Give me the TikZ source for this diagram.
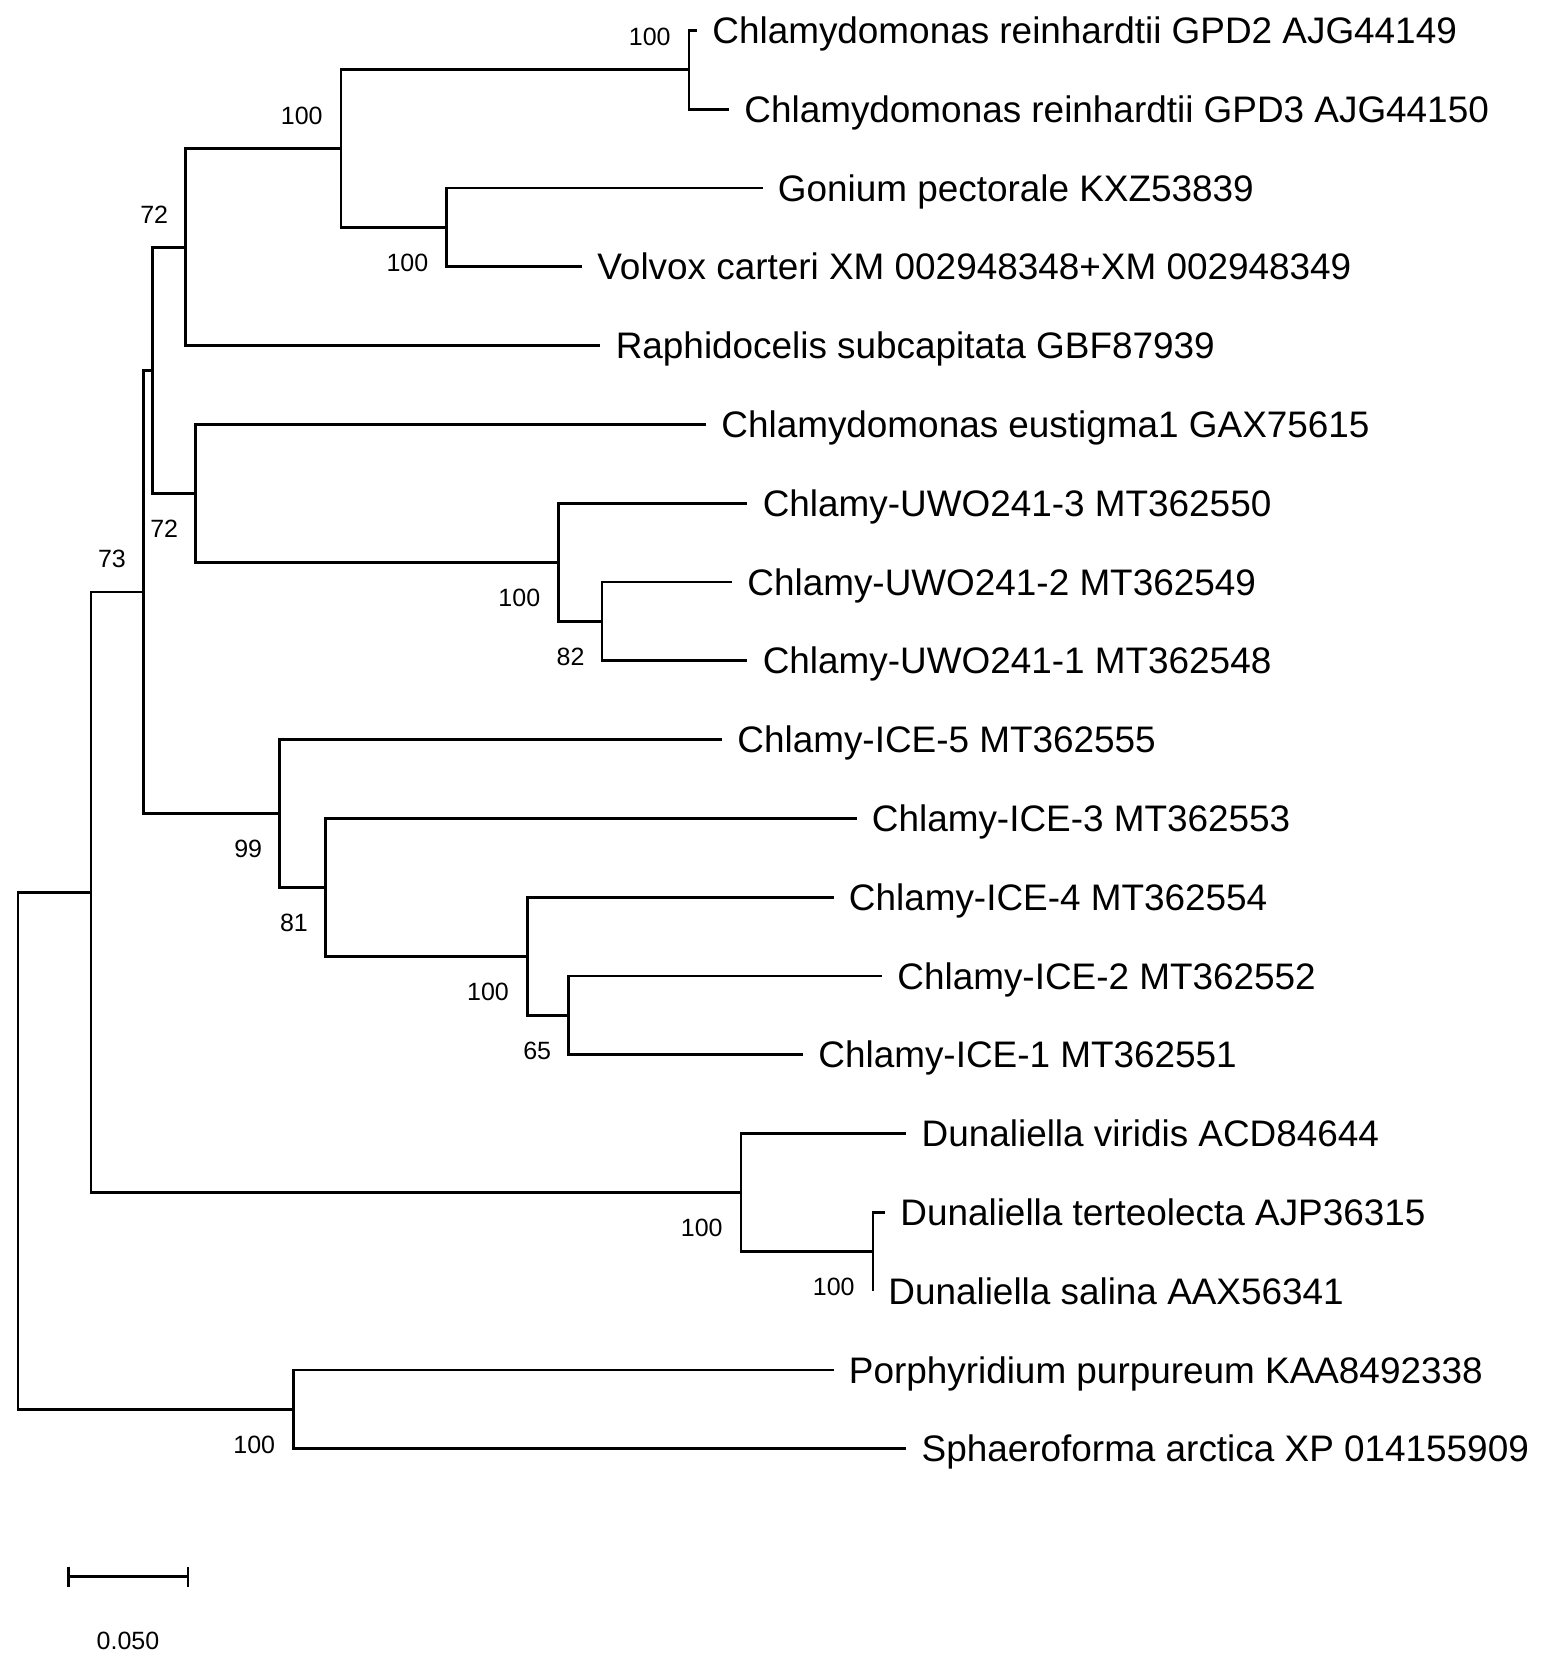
\documentclass[tikz,border=0pt]{standalone}
\usepackage{fontspec}
\setmainfont{Liberation Sans}
\usetikzlibrary{calc}
\begin{document}
\begin{tikzpicture}[x=0.5pt,y=-0.5pt,
  br/.style={line width=1.4pt},
  taxon/.style={anchor=base west, inner sep=0pt, font=\fontsize{18.45}{20}\selectfont},
  boot/.style={anchor=east, inner sep=0pt, font=\fontsize{12.5}{14}\selectfont}]
\fill[white] (0,0) rectangle (1551,1670);
\useasboundingbox (0,0) rectangle (1551,1670);
% leaf ends
\coordinate (l1) at (697,30.4);
\coordinate (l2) at (729,109.2);
\coordinate (l3) at (762.5,188);
\coordinate (l4) at (582,266.8);
\coordinate (l5) at (600.4,345.6);
\coordinate (l6) at (706,424.4);
\coordinate (l7) at (747.4,503.2);
\coordinate (l8) at (732,582);
\coordinate (l9) at (747.4,660.8);
\coordinate (l10) at (722,739.6);
\coordinate (l11) at (856.5,818.4);
\coordinate (l12) at (833.5,897.2);
\coordinate (l13) at (882,976);
\coordinate (l14) at (803,1054.8);
\coordinate (l15) at (906.3,1133.6);
\coordinate (l16) at (885,1212.4);
\coordinate (l17) at (873,1291.2);
\coordinate (l18) at (833.5,1370);
\coordinate (l19) at (906.3,1448.8);
% internal nodes
\coordinate (A) at (689,69.8);
\coordinate (C) at (446.7,227.4);
\coordinate (B) at (341,148.6);
\coordinate (D) at (185.5,247.1);
\coordinate (I) at (601.9,621.4);
\coordinate (G) at (558.6,562.3);
\coordinate (F) at (195.5,493.35);
\coordinate (E) at (152.7,370.2);
\coordinate (M) at (568.5,1015.4);
\coordinate (L) at (527.3,956.3);
\coordinate (K) at (325.3,887.35);
\coordinate (J) at (279.5,813.5);
\coordinate (H) at (143.3,591.9);
\coordinate (Q) at (873,1251.8);
\coordinate (O) at (741,1192.7);
\coordinate (N) at (91,892.3);
\coordinate (P) at (293.5,1409.4);
\coordinate (R) at (17.9,1150.9);
% branches
\draw[br] (A) |- (l1); \draw[br] (A) |- (l2);
\draw[br] (B) |- (A);  \draw[br] (B) |- (C);
\draw[br] (C) |- (l3); \draw[br] (C) |- (l4);
\draw[br] (D) |- (B);  \draw[br] (D) |- (l5);
\draw[br] (E) |- (D);  \draw[br] (E) |- (F);
\draw[br] (F) |- (l6); \draw[br] (F) |- (G);
\draw[br] (G) |- (l7); \draw[br] (G) |- (I);
\draw[br] (I) |- (l8); \draw[br] (I) |- (l9);
\draw[br] (H) |- (E);  \draw[br] (H) |- (J);
\draw[br] (J) |- (l10); \draw[br] (J) |- (K);
\draw[br] (K) |- (l11); \draw[br] (K) |- (L);
\draw[br] (L) |- (l12); \draw[br] (L) |- (M);
\draw[br] (M) |- (l13); \draw[br] (M) |- (l14);
\draw[br] (N) |- (H);  \draw[br] (N) |- (O);
\draw[br] (O) |- (l15); \draw[br] (O) |- (Q);
\draw[br] (Q) |- (l16); \draw[br] (Q) |- (l17);
\draw[br] (R) |- (N);  \draw[br] (R) |- (P);
\draw[br] (P) |- (l18); \draw[br] (P) |- (l19);
% taxon labels
\node[taxon] (t1) at ($(l1)+(15,13)$) {Chlamydomonas reinhardtii GPD2 AJG44149};
\node[taxon] (t2) at ($(l2)+(15,13)$) {Chlamydomonas reinhardtii GPD3 AJG44150};
\node[taxon] (t3) at ($(l3)+(15,13)$) {Gonium pectorale KXZ53839};
\node[taxon] (t4) at ($(l4)+(15,13)$) {Volvox carteri XM 002948348+XM 002948349};
\node[taxon] (t5) at ($(l5)+(15,13)$) {Raphidocelis subcapitata GBF87939};
\node[taxon] (t6) at ($(l6)+(15,13)$) {Chlamydomonas eustigma1 GAX75615};
\node[taxon] (t7) at ($(l7)+(15,13)$) {Chlamy-UWO241-3 MT362550};
\node[taxon] (t8) at ($(l8)+(15,13)$) {Chlamy-UWO241-2 MT362549};
\node[taxon] (t9) at ($(l9)+(15,13)$) {Chlamy-UWO241-1 MT362548};
\node[taxon] (t10) at ($(l10)+(15,13)$) {Chlamy-ICE-5 MT362555};
\node[taxon] (t11) at ($(l11)+(15,13)$) {Chlamy-ICE-3 MT362553};
\node[taxon] (t12) at ($(l12)+(15,13)$) {Chlamy-ICE-4 MT362554};
\node[taxon] (t13) at ($(l13)+(15,13)$) {Chlamy-ICE-2 MT362552};
\node[taxon] (t14) at ($(l14)+(15,13)$) {Chlamy-ICE-1 MT362551};
\node[taxon] (t15) at ($(l15)+(15,13)$) {Dunaliella viridis ACD84644};
\node[taxon] (t16) at ($(l16)+(15,13)$) {Dunaliella terteolecta AJP36315};
\node[taxon] (t17) at ($(l17)+(15,13)$) {Dunaliella salina AAX56341};
\node[taxon] (t18) at ($(l18)+(15,13)$) {Porphyridium purpureum KAA8492338};
\node[taxon] (t19) at ($(l19)+(15,13)$) {Sphaeroforma arctica XP 014155909};
% bootstrap values
\node[boot] (bA) at ($(A)+(-18,-32.5)$) {100};
\node[boot] (bB) at ($(B)+(-18,-32.5)$) {100};
\node[boot] (bC) at ($(C)+(-18,35.5)$) {100};
\node[boot] (bD) at ($(D)+(-17,-32.5)$) {72};
\node[boot] (bF) at ($(F)+(-17,35.5)$) {72};
\node[boot] (bH) at ($(H)+(-17,-33.5)$) {73};
\node[boot] (bG) at ($(G)+(-18,35.5)$) {100};
\node[boot] (bI) at ($(I)+(-17,35.5)$) {82};
\node[boot] (bJ) at ($(J)+(-17,35.5)$) {99};
\node[boot] (bK) at ($(K)+(-17,35.5)$) {81};
\node[boot] (bL) at ($(L)+(-18,35.5)$) {100};
\node[boot] (bM) at ($(M)+(-17,35.5)$) {65};
\node[boot] (bO) at ($(O)+(-18,35.5)$) {100};
\node[boot] (bQ) at ($(Q)+(-18,35.5)$) {100};
\node[boot] (bP) at ($(P)+(-18,35.5)$) {100};
% scale bar
\coordinate (s1) at (68.6,1576.7);
\coordinate (s2) at (188,1576.7);
\draw[br] (s1) -- (s2);
\draw[br] ($(s1)+(0,-10)$) -- ($(s1)+(0,10)$);
\draw[br] ($(s2)+(0,-10)$) -- ($(s2)+(0,10)$);
\node[inner sep=0pt, font=\fontsize{12.5}{14}\selectfont] (slab) at (128,1640.7) {0.050};
\end{tikzpicture}
\end{document}
